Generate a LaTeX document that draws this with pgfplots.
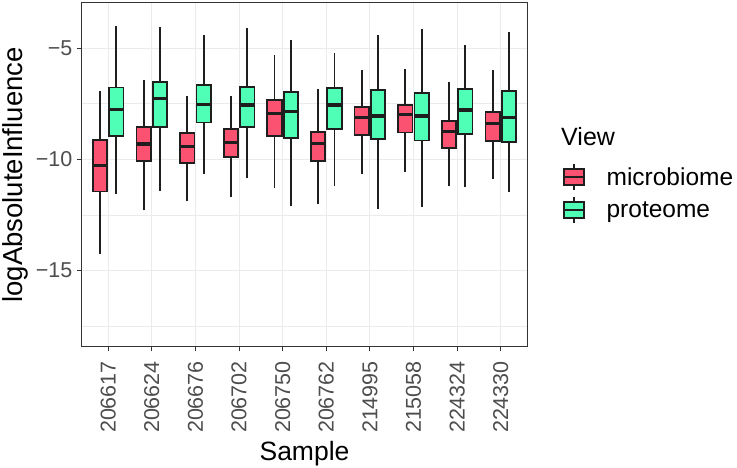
\documentclass[border=0pt]{standalone}
\usepackage{fontspec}
\setmainfont{Liberation Sans}
\usepackage{pgfplots}
\pgfplotsset{compat=1.18}
\definecolor{microred}{RGB}{250,82,112}
\definecolor{protgreen}{RGB}{80,255,182}
\definecolor{gridgrey}{RGB}{235,235,235}
\definecolor{grey20}{RGB}{51,51,51}
\definecolor{grey30}{RGB}{77,77,77}
\definecolor{boxline}{RGB}{30,30,30}

% one box: #1 centre x, #2 lower whisker, #3 lower quartile, #4 median,
% #5 upper quartile, #6 upper whisker, #7 fill colour
\newcommand{\bx}[7]{%
  \pgfmathsetmacro\xl{#1-0.165}\pgfmathsetmacro\xr{#1+0.165}%
  \edef\doit{%
    \noexpand\addplot[forget plot, mark=none, boxline, line width=1.8pt] coordinates {(#1,#2) (#1,#3)};
    \noexpand\addplot[forget plot, mark=none, boxline, line width=1.8pt] coordinates {(#1,#5) (#1,#6)};
    \noexpand\addplot[forget plot, mark=none, fill=#7, draw=boxline, line width=1.8pt] coordinates {(\xl,#3) (\xr,#3) (\xr,#5) (\xl,#5)} -- cycle;
    \noexpand\addplot[forget plot, mark=none, boxline, line width=3.2pt] coordinates {(\xl,#4) (\xr,#4)};
  }\doit}

\begin{document}
\begin{tikzpicture}
\begin{axis}[
  name=ax,
  scale only axis,
  width=445pt, height=344pt,
  xmin=-0.6, xmax=9.6,
  ymin=-18.44, ymax=-2.97,
  xtick={0,...,9},
  xticklabels={206617,206624,206676,206702,206750,206762,214995,215058,224324,224330},
  ytick={-15,-10,-5},
  yticklabels={−15,−10,−5},
  minor ytick={-17.5,-12.5,-7.5},
  xtick pos=bottom, ytick pos=left,
  xmajorgrids, ymajorgrids, yminorgrids,
  major grid style={gridgrey, line width=1.1pt},
  minor grid style={gridgrey, line width=0.55pt},
  axis line style={grey20, line width=1pt},
  tick align=outside,
  major tick length=4.5pt,
  minor tick length=0pt,
  tick style={grey20, line width=1pt},
  xticklabel style={rotate=90, anchor=east, inner sep=0pt, font=\fontsize{21.5}{24}\selectfont, color=grey30},
  yticklabel style={inner sep=0pt, font=\fontsize{21.5}{24}\selectfont, color=grey30},
  xticklabel shift=9.5pt,
  yticklabel shift=5pt,
  xlabel={Sample},
  ylabel={logAbsoluteInfluence},
  xlabel style={at={(axis description cs:0.5,-0.3285)}, anchor=base, font=\fontsize{26.5}{30}\selectfont},
  ylabel style={at={(axis description cs:-0.134,0.5)}, anchor=base, font=\fontsize{27.5}{30}\selectfont},
  legend style={at={(axis description cs:1.08,0.535)}, anchor=north west, draw=none, fill=none,
    font=\fontsize{24.5}{28}\selectfont, inner sep=0pt, row sep=5pt, column sep=20pt,
    cells={anchor=west}},
  legend cell align=left,
  clip=false,
]
% microbiome: centre, lower whisker, lower quartile, median, upper quartile, upper whisker
\bx{-0.1875}{-14.24}{-11.45}{-10.27}{-9.13}{-6.95}{microred}
\bx{0.8125}{-12.28}{-10.09}{-9.31}{-8.53}{-6.44}{microred}
\bx{1.8125}{-11.89}{-10.15}{-9.43}{-8.80}{-7.16}{microred}
\bx{2.8125}{-11.69}{-9.89}{-9.25}{-8.64}{-7.16}{microred}
\bx{3.8125}{-11.29}{-8.94}{-7.94}{-7.32}{-5.33}{microred}
\bx{4.8125}{-11.99}{-10.09}{-9.28}{-8.76}{-6.86}{microred}
\bx{5.8125}{-10.64}{-8.91}{-8.11}{-7.65}{-6.00}{microred}
\bx{6.8125}{-10.55}{-8.79}{-8.00}{-7.55}{-5.92}{microred}
\bx{7.8125}{-11.18}{-9.48}{-8.74}{-8.28}{-6.54}{microred}
\bx{8.8125}{-10.87}{-9.16}{-8.40}{-7.87}{-6.00}{microred}
% proteome
\bx{0.1875}{-11.54}{-8.94}{-7.77}{-6.77}{-4.00}{protgreen}
\bx{1.1875}{-11.41}{-8.55}{-7.25}{-6.53}{-4.03}{protgreen}
\bx{2.1875}{-10.66}{-8.34}{-7.55}{-6.66}{-4.43}{protgreen}
\bx{3.1875}{-10.82}{-8.55}{-7.56}{-6.75}{-4.10}{protgreen}
\bx{4.1875}{-12.08}{-9.03}{-7.85}{-6.98}{-4.63}{protgreen}
\bx{5.1875}{-11.18}{-8.65}{-7.56}{-6.80}{-5.23}{protgreen}
\bx{6.1875}{-12.25}{-9.10}{-8.05}{-6.90}{-4.40}{protgreen}
\bx{7.1875}{-12.14}{-9.15}{-8.05}{-7.02}{-4.15}{protgreen}
\bx{8.1875}{-11.26}{-8.86}{-7.78}{-6.84}{-4.85}{protgreen}
\bx{9.1875}{-11.48}{-9.22}{-8.11}{-6.92}{-4.28}{protgreen}
\addlegendimage{legend image code/.code={
  \draw[boxline, line width=1.8pt] (10pt,-13pt)--(10pt,-8pt) (10pt,8pt)--(10pt,13pt);
  \draw[boxline, fill=microred, line width=1.8pt] (0pt,-8pt) rectangle (20pt,8pt);
  \draw[boxline, line width=1.8pt] (0pt,0pt)--(20pt,0pt);}}
\addlegendentry{microbiome}
\addlegendimage{legend image code/.code={
  \draw[boxline, line width=1.8pt] (10pt,-13pt)--(10pt,-8pt) (10pt,8pt)--(10pt,13pt);
  \draw[boxline, fill=protgreen, line width=1.8pt] (0pt,-8pt) rectangle (20pt,8pt);
  \draw[boxline, line width=1.8pt] (0pt,0pt)--(20pt,0pt);}}
\addlegendentry{proteome}
\node[anchor=base west, font=\fontsize{25}{28}\selectfont] at (axis description cs:1.069,0.587) {View};
\end{axis}
\pgfresetboundingbox
\path (ax.south west) ++(-82pt,-121pt) rectangle ++(737pt,468pt);
\end{tikzpicture}
\end{document}
